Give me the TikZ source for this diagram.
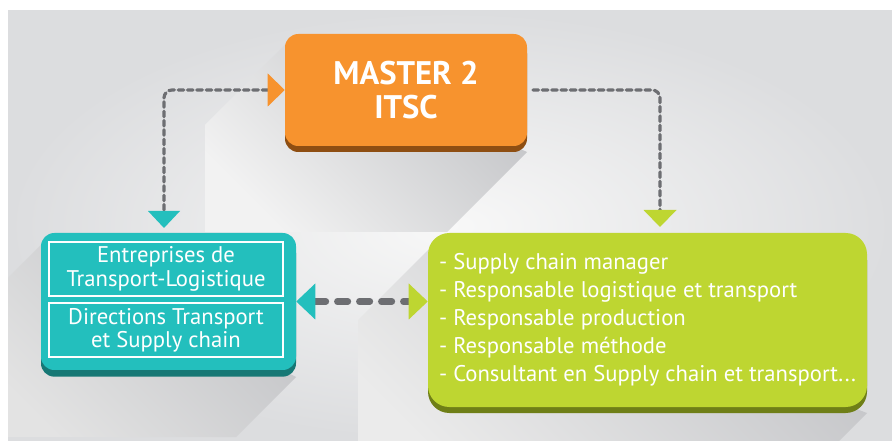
\documentclass[tikz,border=0pt]{standalone}
\usepackage{fontspec}
\setmainfont{PT Sans}
\usetikzlibrary{arrows.meta,shadows}
\definecolor{orangebox}{HTML}{F7932E}
\definecolor{orangedark}{HTML}{8E4E12}
\definecolor{tealbox}{HTML}{23BFBD}
\definecolor{tealdark}{HTML}{177875}
\definecolor{greenbox}{HTML}{BED631}
\definecolor{greendark}{HTML}{6F7F17}
\definecolor{linegray}{HTML}{6D6E72}
\definecolor{bgin}{HTML}{F8F8F8}
\definecolor{bgout}{HTML}{DCDDDF}
\definecolor{shadowgray}{HTML}{C3C4C7}

\begin{document}
\begin{tikzpicture}[x=0.75pt,y=-0.75pt,
    box/.style={rounded corners=10pt, text=white, align=center, inner sep=0pt},
    subbox/.style={draw=white, line width=2pt, text=white, align=center, inner sep=0pt,
        minimum width=175.5pt, minimum height=40.5pt, font=\fontsize{17}{17.5}\selectfont},
    longshadow/.style={shading=axis, top color=shadowgray, bottom color=#1, shading angle=-45},
    link/.style={draw=linegray, line width=2.4pt, dash pattern=on 4.2pt off 2.8pt,
        line cap=round, rounded corners=6pt},
    mainlink/.style={draw=linegray, line width=4.8pt, dash pattern=on 8pt off 8.5pt,
        line cap=round}]
    \useasboundingbox (0,0) rectangle (892,441);
    % background and the long shadows
    \begin{scope}
        \clip (8,11) rectangle (892,441);
        \shade[inner color=bgin, outer color=bgout] (8,11) rectangle (892,441);
        \shade[longshadow=black!5] (285,45) -- (205,125) -- (205,232) -- (447,232) -- (527,152) -- cycle;
        \shade[longshadow=black!11] (41,245) -- (-19,305) -- (-19,437) -- (236,437) -- (296,377) -- cycle;
        \shade[longshadow=black!8] (428,250) -- (358,320) -- (358,483) -- (797,483) -- (867,413) -- cycle;
    \end{scope}
    % the three boxes
    \node[box, fill=orangebox, minimum width=181.5pt, minimum height=84pt,
        copy shadow={fill=orangedark, draw=none, shadow xshift=0pt, shadow yshift=-4.5pt},
        font=\bfseries\fontsize{24.5}{25}\selectfont] (master) at (406,90) {MASTER 2\\ITSC};
    \node[box, fill=tealbox, minimum width=191.25pt, minimum height=102.75pt,
        copy shadow={fill=tealdark, draw=none, shadow xshift=0pt, shadow yshift=-5pt}]
        (orgs) at (168.5,301.5) {};
    \node[box, fill=greenbox, rounded corners=16pt, minimum width=329.25pt, minimum height=130.5pt,
        copy shadow={fill=greendark, draw=none, shadow xshift=0pt, shadow yshift=-4.5pt},
        align=left, font=\fontsize{17}{21}\selectfont] (jobs) at (647.5,320)
        {- Supply chain manager\\- Responsable logistique et transport\\- Responsable production\\%
         - Responsable méthode\\- Consultant en Supply chain et transport...};
    % the two framed texts in the teal box
    \node[subbox] (entreprises) at (166,269) {Entreprises de\\Transport-Logistique};
    \node[subbox] (directions) at (166,330) {Directions Transport\\et Supply chain};
    % the dashed links
    \coordinate (tealin) at (164,228);
    \coordinate (greenin) at (660,227);
    \coordinate (mout) at (533,90);
    \draw[link, {Triangle[width=24.75pt,length=12.75pt,color=orangebox,line width=0pt]}-{Triangle[width=24pt,length=12.75pt,color=tealbox,line width=0pt]}]
        (master.west) -| (tealin);
    \draw[link, -{Triangle[width=24.75pt,length=12.75pt,color=greenbox,line width=0pt]}]
        (mout) -| (greenin);
    \draw[mainlink, {Triangle[width=27pt,length=14.25pt,color=tealbox,line width=0pt]}-{Triangle[width=27pt,length=14.25pt,color=greenbox,line width=0pt]}]
        (orgs.east) -- (orgs.east -| jobs.west);
\end{tikzpicture}
\end{document}
